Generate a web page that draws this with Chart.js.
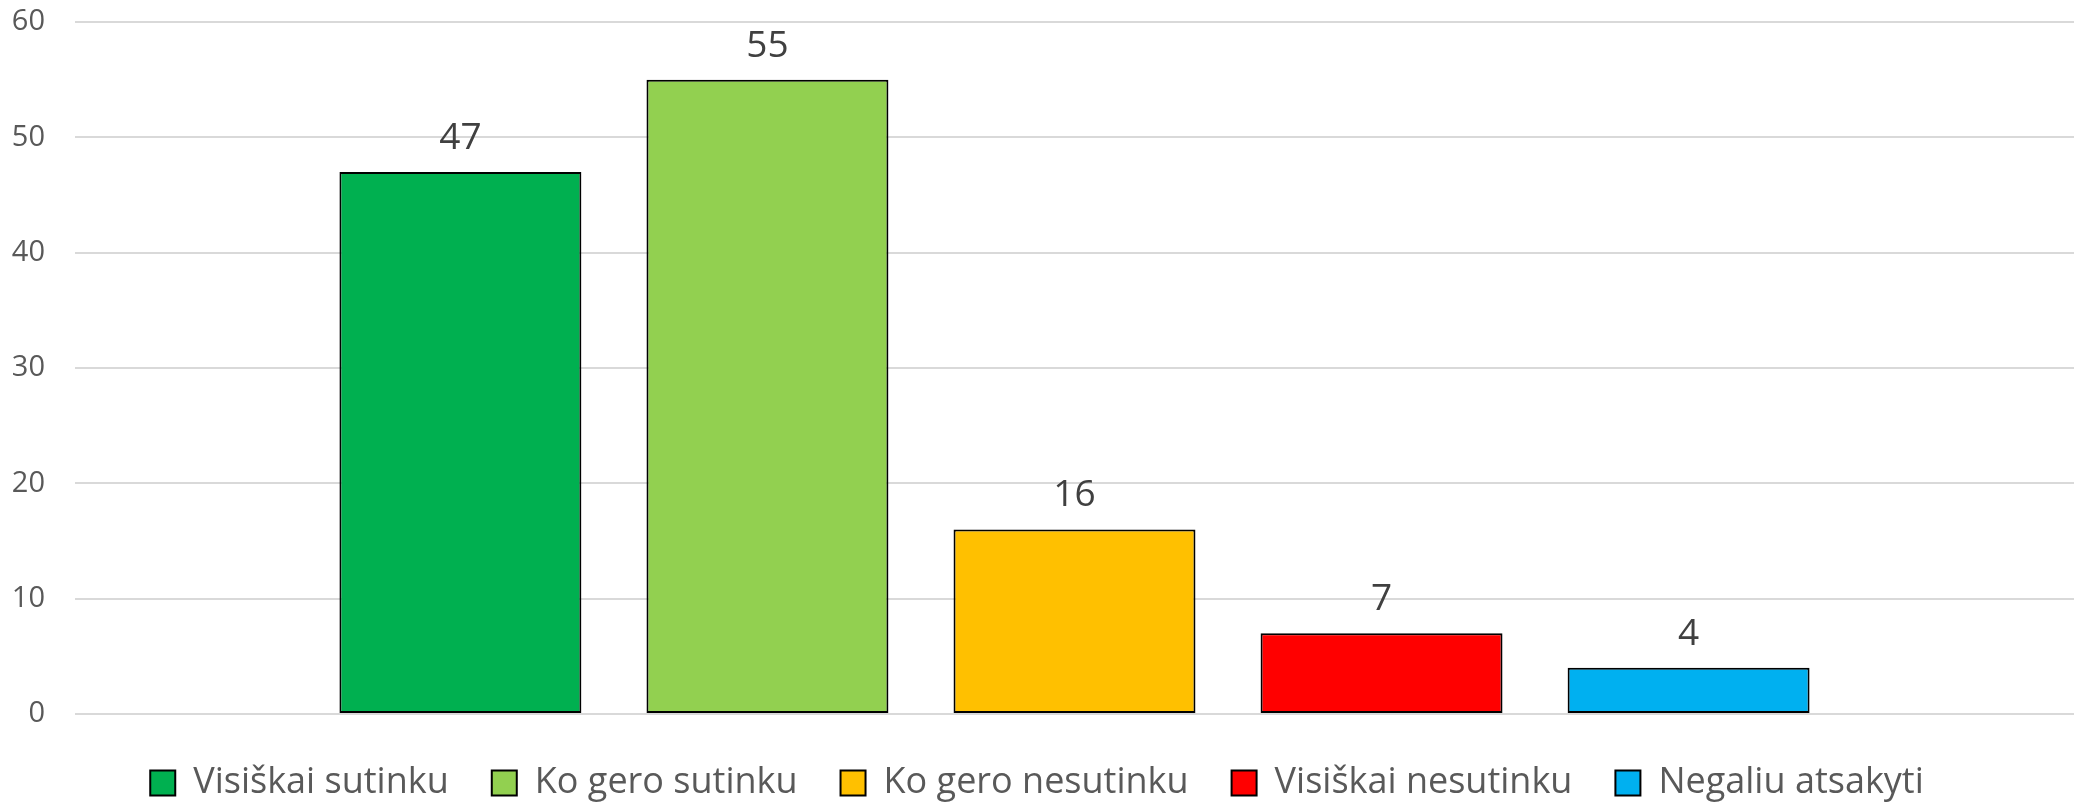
<!DOCTYPE html>
<html>
<head>
<meta charset="utf-8">
<script src="https://cdn.jsdelivr.net/npm/chart.js@4/dist/chart.umd.min.js"></script>
<style>
    html, body { margin: 0; padding: 0; background: #fff; }
    #wrap { width: 2074px; height: 806px; }
</style>
</head>
<body>
<div id="wrap"><canvas id="myChart"></canvas></div>
<script>
var seriesNames = ["Visiškai sutinku", "Ko gero sutinku", "Ko gero nesutinku", "Visiškai nesutinku", "Negaliu atsakyti"];
var seriesValues = [47, 55, 16, 7, 4];
var seriesColors = ["#00b050", "#92d050", "#ffc000", "#ff0000", "#00b0f0"];
var yTicks = [0, 10, 20, 30, 40, 50, 60];

// value above each bar
var valueLabels = {
    id: "valueLabels",
    afterDatasetsDraw: function(chart) {
        var ctx = chart.ctx;
        ctx.save();
        ctx.font = "37px 'Open Sans'";
        ctx.fillStyle = "#404040";
        ctx.textAlign = "center";
        ctx.textBaseline = "alphabetic";
        chart.data.datasets.forEach(function(ds, i) {
            var bar = chart.getDatasetMeta(i).data[0];
            ctx.fillText(ds.data[0], bar.x, bar.y - 23);
        });
        ctx.restore();
    }
};

var datasets = seriesNames.map(function(name, i) {
    return {
        label: name,
        data: [seriesValues[i]],
        backgroundColor: seriesColors[i],
        borderColor: "#000",
        borderWidth: 2,
        borderSkipped: false
    };
});

var c = document.getElementById("myChart").getContext("2d");
var e = new Chart(c, {
    type: "bar",
    data: {
        labels: [""],
        datasets: datasets
    },
    plugins: [valueLabels],
    options: {
        responsive: true,
        maintainAspectRatio: false,
        animation: false,
        categoryPercentage: 0.768,
        barPercentage: 0.788,
        layout: {
            padding: { left: 0, right: 0, top: 22, bottom: 0 }
        },
        plugins: {
            tooltip: { enabled: false },
            legend: {
                position: "bottom",
                maxHeight: 84,
                labels: {
                    font: { family: "Open Sans", size: 36 },
                    color: "#595959",
                    boxWidth: 25,
                    boxHeight: 25,
                    padding: 43
                }
            }
        },
        scales: {
            x: {
                grid: { display: false },
                border: { display: false },
                ticks: { display: false }
            },
            y: {
                min: 0,
                max: 60,
                afterBuildTicks: function(axis) {
                    axis.ticks = yTicks.map(function(v) { return { value: v }; });
                },
                afterFit: function(axis) {
                    axis.width = 75;
                    axis.paddingTop = 0;
                    axis.paddingBottom = 0;
                },
                grid: { color: "#d9d9d9", lineWidth: 2, drawTicks: false },
                border: { display: false },
                ticks: {
                    font: { family: "Open Sans", size: 29 },
                    color: "#595959",
                    padding: 30
                }
            }
        }
    }
});
</script>
</body>
</html>
